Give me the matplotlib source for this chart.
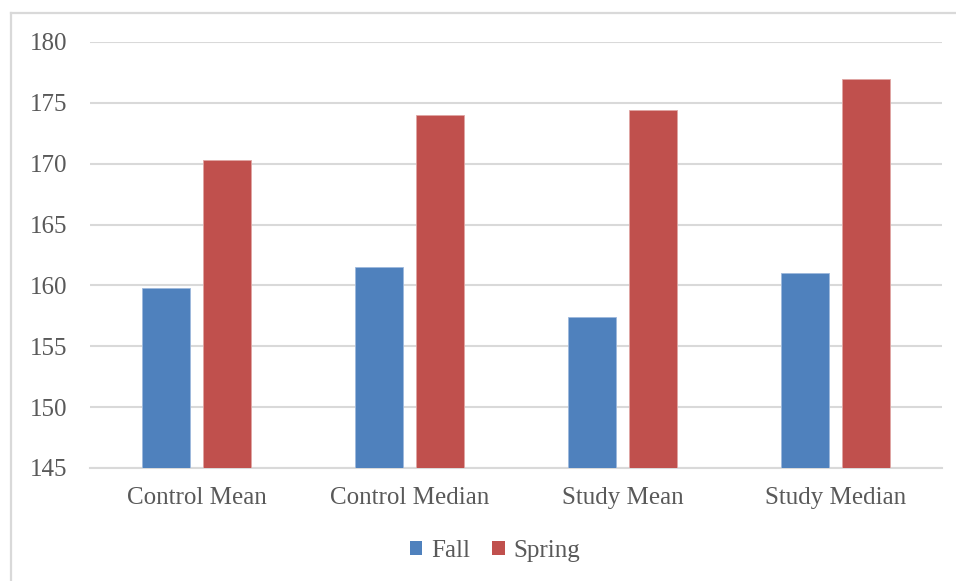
import matplotlib
matplotlib.use("Agg")
import matplotlib.pyplot as plt
import numpy as np
from matplotlib.lines import Line2D
from matplotlib.patches import Patch

categories = ["Control Mean", "Control Median", "Study Mean", "Study Median"]
fall = [159.8, 161.5, 157.4, 161.0]
spring = [170.3, 174.0, 174.4, 177.0]
y_ticks = [145, 150, 155, 160, 165, 170, 175, 180]

BLUE = "#4F81BD"
RED = "#C0504D"
TEXT = "#595959"
GRID = "#D9D9D9"
FS = 18

plt.rcParams["font.family"] = ["Liberation Serif", "DejaVu Serif"]

fig = plt.figure(figsize=(9.56, 5.81), dpi=100)
ax = fig.add_axes([90 / 956, 1 - 468 / 581, (942 - 90) / 956, (468 - 42) / 581])

x = np.arange(len(categories))
w = 0.225
off = 30.5 / 213
ax.bar(x - off, np.array(fall) - 145, w, bottom=145, color=BLUE,
       edgecolor="#9DB8DC", linewidth=0.6, zorder=3)
ax.bar(x + off, np.array(spring) - 145, w, bottom=145, color=RED,
       edgecolor="#E0A5A3", linewidth=0.6, zorder=3)

ax.set_xlim(-0.5, len(categories) - 0.5)
ax.set_ylim(145, 180)
ax.set_yticks(y_ticks)
ax.set_xticks(x)
ax.set_xticklabels(categories)
ax.yaxis.grid(True, color=GRID, linewidth=1.5, zorder=0)
ax.set_axisbelow(True)
for s in ["top", "right", "left"]:
    ax.spines[s].set_visible(False)
ax.spines["bottom"].set_color(GRID)
ax.spines["bottom"].set_linewidth(1.5)
ax.tick_params(axis="both", length=0, colors=TEXT, labelsize=FS)
ax.tick_params(axis="y", pad=16)
ax.tick_params(axis="x", pad=14)

# chart frame (top and left edges)
fig.add_artist(Line2D([11 / 956, 11 / 956], [0, 1 - 13 / 581],
                      transform=fig.transFigure, color=GRID, linewidth=1.6))
fig.add_artist(Line2D([11 / 956, 1], [1 - 13 / 581, 1 - 13 / 581],
                      transform=fig.transFigure, color=GRID, linewidth=1.6))

handles = [Patch(facecolor=BLUE, label="Fall"), Patch(facecolor=RED, label="Spring")]
fig.legend(handles=handles, loc="center", bbox_to_anchor=(495 / 956, 1 - 551 / 581),
           ncol=2, frameon=False, fontsize=FS, labelcolor=TEXT,
           handlelength=0.5, handleheight=0.5, handletextpad=0.35, columnspacing=0.9)

fig.savefig("out.png", dpi=100, facecolor="white")
